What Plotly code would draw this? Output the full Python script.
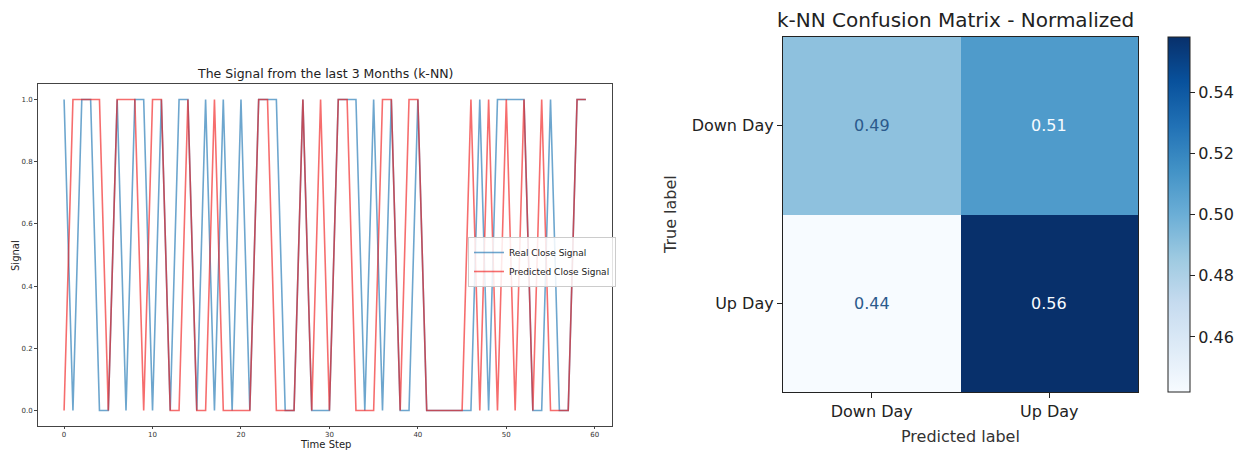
import plotly.graph_objects as go

# ---------------- data ----------------
time_step = list(range(60))
real_signal = [1,0,1,1,0,0,1,0,1,1, 0,1,0,1,1,0,1,0,1,0,
               1,0,1,1,1,0,0,1,0,0, 0,1,1,1,0,1,0,1,0,0,
               1,0,0,0,0,0,0,1,0,1, 1,1,1,0,0,1,0,0,1,1]
pred_signal = [0,1,1,1,1,0,1,1,1,0, 1,1,0,0,1,0,0,1,0,0,
               0,0,1,1,0,0,0,1,0,1, 0,1,1,0,0,0,1,1,0,1,
               1,0,0,0,0,0,1,0,1,0, 1,0,1,0,1,0,0,0,1,1]
x_ticks = [0, 10, 20, 30, 40, 50, 60]
y_ticks = [0.0, 0.2, 0.4, 0.6, 0.8, 1.0]

cm_labels = ["Down Day", "Up Day"]
cm_values = [[0.49, 0.51],
             [0.442, 0.558]]
cbar_ticks = [0.46, 0.48, 0.50, 0.52, 0.54]

blues = ["#f7fbff", "#deebf7", "#c6dbef", "#9ecae1", "#6baed6",
         "#4292c6", "#2171b5", "#08519c", "#08306b"]
W, H = 1240, 451
FONT = "DejaVu Sans"

fig = go.Figure()

# ---------------- left: signal lines ----------------
fig.add_trace(go.Scatter(x=time_step, y=real_signal, mode="lines",
                         name="Real Close Signal",
                         line=dict(color="rgba(31,119,180,0.65)", width=1.6),
                         xaxis="x", yaxis="y"))
fig.add_trace(go.Scatter(x=time_step, y=pred_signal, mode="lines",
                         name="Predicted Close Signal",
                         line=dict(color="rgba(240,20,20,0.62)", width=1.6),
                         xaxis="x", yaxis="y"))

# ---------------- right: confusion matrix ----------------
zmin = min(min(r) for r in cm_values)
zmax = max(max(r) for r in cm_values)
cs = [[i / (len(blues) - 1), c] for i, c in enumerate(blues)]
fig.add_trace(go.Heatmap(z=cm_values, x=cm_labels, y=cm_labels,
                         colorscale=cs, zmin=zmin, zmax=zmax,
                         xaxis="x2", yaxis="y2", showscale=True,
                         hoverinfo="skip",
                         colorbar=dict(x=1168 / W, xanchor="left", xpad=0, ypad=0,
                                       thickness=22, thicknessmode="pixels",
                                       len=355 / H, lenmode="fraction",
                                       y=1 - (37 + 355 / 2) / H, yanchor="middle",
                                       outlinewidth=1, outlinecolor="#222",
                                       tickmode="array", tickvals=cbar_ticks,
                                       ticktext=[f"{v:.2f}" for v in cbar_ticks],
                                       ticks="outside", ticklen=5, tickcolor="#222",
                                       tickfont=dict(family=FONT, size=16, color="#222"))))

mid = (zmin + zmax) / 2
annotations = []
for i, row_lab in enumerate(cm_labels):
    for j, col_lab in enumerate(cm_labels):
        v = cm_values[i][j]
        annotations.append(dict(x=col_lab, y=row_lab, xref="x2", yref="y2",
                                text=f"{v:.2f}", showarrow=False,
                                font=dict(family=FONT, size=16,
                                          color="#f7fbff" if v > mid else "#2b5a8c")))

# titles and labels
annotations += [
    dict(text="The Signal from the last 3 Months (k-NN)", x=325 / W, y=1 - 73 / H,
         xref="paper", yref="paper", showarrow=False, xanchor="center", yanchor="middle",
         font=dict(family=FONT, size=12.5, color="#222")),
    dict(text="Time Step", x=325 / W, y=0, xref="paper", yref="paper",
         showarrow=False, xanchor="center", yanchor="bottom", borderpad=0,
         font=dict(family=FONT, size=10, color="#222")),
    dict(text="Signal", x=15 / W, y=1 - 256 / H, xref="paper", yref="paper",
         showarrow=False, textangle=-90, xanchor="center", yanchor="middle",
         font=dict(family=FONT, size=10, color="#222")),
    dict(text="k-NN Confusion Matrix - Normalized", x=955 / W, y=1 - 20 / H,
         xref="paper", yref="paper", showarrow=False, xanchor="center", yanchor="middle",
         font=dict(family=FONT, size=20, color="#222")),
    dict(text="Predicted label", x=960 / W, y=1 - 436 / H, xref="paper", yref="paper",
         showarrow=False, xanchor="center", yanchor="middle",
         font=dict(family=FONT, size=16, color="#333")),
    dict(text="True label", x=670 / W, y=1 - 215 / H, xref="paper", yref="paper",
         showarrow=False, textangle=-90, xanchor="center", yanchor="middle",
         font=dict(family=FONT, size=16, color="#333")),
]

fig.update_layout(
    width=W, height=H,
    margin=dict(l=0, r=0, t=0, b=0),
    paper_bgcolor="white", plot_bgcolor="white",
    font=dict(family=FONT, color="#222"),
    showlegend=True,
    legend=dict(x=468 / W, y=1 - 237 / H, xanchor="left", yanchor="top",
                bgcolor="rgba(255,255,255,0.85)", bordercolor="#ccc", borderwidth=1,
                font=dict(family=FONT, size=9, color="#222"),
                itemwidth=30, tracegroupgap=0),
    xaxis=dict(domain=[38 / W, 612 / W], range=[-2.95, 61.95],
               tickvals=x_ticks, ticktext=[str(v) for v in x_ticks],
               showgrid=False, zeroline=False, showline=True, mirror=True,
               linecolor="#444", linewidth=1, ticks="outside", ticklen=2,
               tickcolor="#444", tickfont=dict(family=FONT, size=7, color="#333")),
    yaxis=dict(domain=[1 - 426 / H, 1 - 84 / H], range=[-0.05, 1.05],
               tickvals=y_ticks, ticktext=[f"{v:.1f}" for v in y_ticks],
               showgrid=False, zeroline=False, showline=True, mirror=True,
               linecolor="#444", linewidth=1, ticks="outside", ticklen=3,
               tickcolor="#444", tickfont=dict(family=FONT, size=7, color="#333")),
    xaxis2=dict(domain=[783 / W, 1138 / W], anchor="y2",
                showgrid=False, zeroline=False, showline=True, mirror=True,
                linecolor="#222", linewidth=1.2, ticks="outside", ticklen=5,
                tickcolor="#222", tickfont=dict(family=FONT, size=16, color="#222")),
    yaxis2=dict(domain=[1 - 392 / H, 1 - 37 / H], anchor="x2", autorange="reversed",
                showgrid=False, zeroline=False, showline=True, mirror=True,
                linecolor="#222", linewidth=1.2, ticks="outside", ticklen=5,
                tickcolor="#222", tickfont=dict(family=FONT, size=16, color="#222")),
    annotations=annotations,
)

fig.write_html("out.html", config={"displayModeBar": False},
               post_script="document.body.style.margin='0';document.body.style.overflow='hidden';")
